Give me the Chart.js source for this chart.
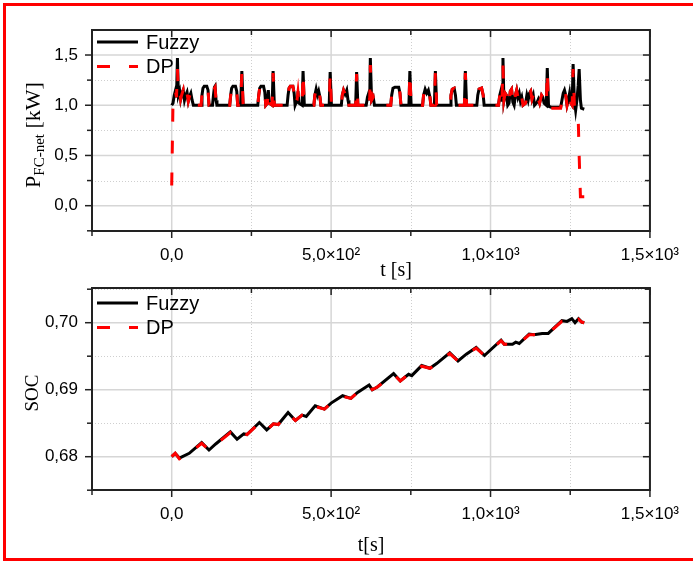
<!DOCTYPE html>
<html>
<head>
<meta charset="utf-8">
<script src="https://cdn.jsdelivr.net/npm/chart.js@4"></script>
<style>
body{margin:0;background:#fff;width:693px;height:563px;overflow:hidden;position:relative}
#box{position:absolute;left:3px;top:3px;width:720px;height:552px;border:3px solid #f00}
canvas{position:absolute;left:0}
</style>
</head>
<body>
<div id="box"></div>
<canvas id="topChart" width="693" height="285" style="top:0"></canvas>
<canvas id="botChart" width="693" height="308" style="top:255px"></canvas>
<script>
// time axis ticks
var xMajor = [0, 500, 1000, 1500];
var xMinor = [-250, 250, 750, 1250];
var xLabels = ['0,0', '5,0×10²', '1,0×10³', '1,5×10³'];

// P_FC-net [kW]
var pMajor = [0, 0.5, 1.0, 1.5];
var pMinor = [-0.25, 0.25, 0.75, 1.25];
var pLabels = ['0,0', '0,5', '1,0', '1,5'];

var tP = [0,4,8,12,15,18,21,25,28,32,36,40,44,48,52,56,60,64,68,92,95,98,102,110,114,117,128,131,134,136,139,142,
  182,185,188,192,200,204,207,216,220,224,270,273,276,280,288,292,295,300,303,306,315,318,322,
  362,365,368,372,380,384,387,393,396,399,409,412,416,446,449,453,457,461,465,468,494,497,501,
  532,535,539,544,549,553,556,577,580,584,610,614,618,621,623,627,632,636,687,690,694,700,712,716,719,
  744,747,751,787,790,795,800,805,810,813,824,827,831,873,876,880,886,890,893,918,921,925,
  957,960,964,972,977,980,1025,1029,1033,1036,1039,1042,1046,1050,1054,1058,1062,1066,1070,1074,
  1078,1082,1086,1090,1094,1098,1102,1110,1114,1118,1122,1126,1130,1134,1138,1146,1150,1154,1160,1164,1168,
  1175,1178,1182,1190,1220,1224,1228,1232,1236,1240,1244,1248,1252,1256,1259,1263,1267,1271,1275,1278,1282,1285,1294];
var pFuzzy = [1.00,1.02,1.10,1.15,1.08,1.47,1.10,1.14,1.06,1.12,1.15,1.05,1.10,1.13,1.04,1.09,1.12,1.05,1.00,1.00,1.10,1.17,1.19,1.19,1.15,1.00,1.00,1.10,1.18,1.19,1.05,1.00,
  1.00,1.10,1.17,1.19,1.19,1.14,1.00,1.00,1.34,1.00,1.00,1.10,1.17,1.19,1.19,1.13,1.00,1.02,1.15,1.02,1.00,1.34,1.00,
  1.00,1.10,1.17,1.19,1.19,1.12,1.00,1.05,1.14,1.02,1.00,1.34,1.00,1.00,1.10,1.16,1.10,1.14,1.08,1.00,1.00,1.33,1.00,
  1.00,1.10,1.15,1.11,1.15,1.05,1.00,1.00,1.33,1.00,1.00,1.08,1.12,1.05,1.47,1.05,1.08,1.00,1.00,1.10,1.17,1.18,1.18,1.12,1.00,
  1.00,1.34,1.00,1.00,1.10,1.16,1.12,1.15,1.08,1.00,1.00,1.34,1.00,1.00,1.10,1.16,1.17,1.10,1.00,1.00,1.34,1.00,
  1.00,1.10,1.16,1.17,1.10,1.00,1.00,1.10,1.15,1.05,1.47,1.05,1.12,1.10,1.00,1.02,1.14,1.16,1.03,1.00,
  1.10,1.15,1.08,1.12,1.04,1.08,1.00,1.02,1.10,1.05,1.12,1.14,1.06,1.10,1.00,1.03,1.06,1.02,1.10,1.08,1.02,
  1.00,1.37,0.99,0.98,0.98,1.05,1.12,1.15,1.10,1.00,1.05,1.12,1.02,1.00,1.41,1.05,0.95,1.05,1.20,1.36,1.05,0.97,0.96];
var pDP = [0.20,1.02,1.08,1.14,1.08,1.36,1.12,1.14,1.06,1.11,1.15,1.05,1.10,1.12,1.04,1.09,1.12,1.05,1.00,1.00,1.10,1.17,1.19,1.19,1.15,1.00,1.00,1.10,1.17,1.18,1.05,1.00,
  1.00,1.10,1.17,1.19,1.19,1.14,1.00,1.00,1.32,1.00,1.00,1.10,1.17,1.19,1.19,1.13,1.00,1.02,1.14,1.02,1.00,1.32,1.00,
  1.00,1.10,1.17,1.19,1.19,1.12,1.00,1.05,1.13,1.02,1.00,1.32,1.00,1.00,1.10,1.16,1.10,1.14,1.08,1.00,1.00,1.31,1.00,
  1.00,1.10,1.15,1.11,1.15,1.05,1.00,1.00,1.31,1.00,1.00,1.08,1.12,1.05,1.40,1.05,1.08,1.00,1.00,1.10,1.17,1.18,1.18,1.12,1.00,
  1.00,1.32,1.00,1.00,1.10,1.16,1.12,1.15,1.08,1.00,1.00,1.32,1.00,1.00,1.10,1.16,1.17,1.10,1.00,1.00,1.32,1.00,
  1.00,1.10,1.16,1.17,1.10,1.00,1.00,1.10,1.15,1.05,1.40,1.05,1.12,1.10,1.00,1.02,1.14,1.16,1.03,1.00,
  1.10,1.15,1.08,1.12,1.04,1.08,1.00,1.02,1.10,1.05,1.12,1.14,1.06,1.10,1.00,1.03,1.06,1.02,1.10,1.08,1.02,
  1.00,1.34,0.98,0.97,0.97,1.05,1.12,1.15,1.10,1.00,1.05,1.12,1.02,1.00,1.36,1.00,0.93,0.92,0.88,0.50,0.09,0.09,0.09];

// SOC
var socMajor = [0.68, 0.69, 0.70];
var socMinor = [0.675, 0.685, 0.695, 0.705];
var socLabels = ['0,68', '0,69', '0,70'];
var tS = [0,11,24,55,94,117,138,184,205,226,236,275,298,319,334,365,388,409,422,450,479,500,536,562,583,619,629,645,
  696,717,743,753,784,810,831,872,898,924,955,981,1033,1043,1069,1079,1090,1121,1136,1162,1181,1224,1240,1255,1265,1276,1286,1294];
var socFuzzy = [0.6800,0.6805,0.6798,0.6805,0.6821,0.6810,0.6819,0.6837,0.6826,0.6834,0.6833,0.6851,0.6840,0.6849,0.6848,0.6866,0.6854,0.6862,0.6860,0.6876,0.6871,0.6880,0.6891,0.6887,0.6896,0.6907,0.6900,0.6904,
  0.6924,0.6913,0.6923,0.6921,0.6936,0.6932,0.6939,0.6955,0.6943,0.6953,0.6963,0.6951,0.6974,0.6968,0.6968,0.6971,0.6969,0.6983,0.6982,0.6984,0.6984,0.7003,0.7002,0.7006,0.7000,0.7006,0.7001,0.7000];
var socDP = [0.6800,0.6805,0.6797,0.6805,0.6820,0.6810,0.6818,0.6836,0.6826,0.6834,0.6833,0.6850,0.6840,0.6849,0.6848,0.6865,0.6854,0.6862,0.6860,0.6875,0.6871,0.6880,0.6890,0.6887,0.6896,0.6906,0.6900,0.6904,
  0.6923,0.6913,0.6923,0.6921,0.6935,0.6932,0.6939,0.6954,0.6943,0.6953,0.6962,0.6951,0.6973,0.6968,0.6968,0.6971,0.6969,0.6982,0.6982,0.6984,0.6984,0.7002,0.7002,0.7005,0.7000,0.7005,0.7001,0.7000];

var SANS = '"Liberation Sans", Arial, sans-serif';
var SERIF = '"Liberation Serif", "Times New Roman", serif';

function pts(t, v) { return t.map(function (x, i) { return { x: x, y: v[i] }; }); }

function richText(ctx, parts, x, y) {
  var w = 0;
  parts.forEach(function (p) { ctx.font = p.font; w += ctx.measureText(p.t).width; });
  var cx = x - w / 2;
  parts.forEach(function (p) {
    ctx.font = p.font;
    ctx.fillText(p.t, cx, y + (p.dy || 0));
    cx += ctx.measureText(p.t).width;
  });
}

function decor(cfg) {
  return {
    id: 'decor',
    beforeDatasetsDraw: function (chart) {
      var ctx = chart.ctx, a = chart.chartArea, xs = chart.scales.x, ys = chart.scales.y;
      ctx.save();
      ctx.strokeStyle = '#cfcfcf'; ctx.lineWidth = 1;
      ctx.setLineDash([1, 2]);
      cfg.xMinor.forEach(function (v) { var p = Math.round(xs.getPixelForValue(v)) + 0.5; ctx.beginPath(); ctx.moveTo(p, a.top); ctx.lineTo(p, a.bottom); ctx.stroke(); });
      cfg.yMinor.forEach(function (v) { var p = Math.round(ys.getPixelForValue(v)) + 0.5; ctx.beginPath(); ctx.moveTo(a.left, p); ctx.lineTo(a.right, p); ctx.stroke(); });
      ctx.setLineDash([]);
      ctx.strokeStyle = '#d6d6d6'; ctx.lineWidth = 1.5;
      cfg.xMajor.forEach(function (v) { var p = xs.getPixelForValue(v); ctx.beginPath(); ctx.moveTo(p, a.top); ctx.lineTo(p, a.bottom); ctx.stroke(); });
      cfg.yMajor.forEach(function (v) { var p = ys.getPixelForValue(v); ctx.beginPath(); ctx.moveTo(a.left, p); ctx.lineTo(a.right, p); ctx.stroke(); });
      ctx.restore();
    },
    afterDraw: function (chart) {
      var ctx = chart.ctx, a = chart.chartArea, xs = chart.scales.x, ys = chart.scales.y;
      ctx.save();
      ctx.strokeStyle = '#222'; ctx.lineWidth = 1.5;
      function tx(list, len) {
        list.forEach(function (v) {
          var p = xs.getPixelForValue(v);
          ctx.beginPath(); ctx.moveTo(p, a.bottom); ctx.lineTo(p, a.bottom + len); ctx.stroke();
          ctx.beginPath(); ctx.moveTo(p, a.top); ctx.lineTo(p, a.top + len); ctx.stroke();
        });
      }
      function ty(list, len) {
        list.forEach(function (v) {
          var p = ys.getPixelForValue(v);
          ctx.beginPath(); ctx.moveTo(a.left, p); ctx.lineTo(a.left - len, p); ctx.stroke();
          ctx.beginPath(); ctx.moveTo(a.right, p); ctx.lineTo(a.right - len, p); ctx.stroke();
        });
      }
      tx(cfg.xMajor, 7); tx(cfg.xMinor, 5);
      ty(cfg.yMajor, 7); ty(cfg.yMinor, 5);
      ctx.lineWidth = 2;
      ctx.strokeRect(a.left, a.top, a.right - a.left, a.bottom - a.top);

      // axis titles
      ctx.fillStyle = '#000';
      ctx.textBaseline = 'middle';
      richText(ctx, cfg.xTitle, cfg.xTitlePos[0], cfg.xTitlePos[1]);
      ctx.save();
      ctx.translate(cfg.yTitlePos[0], cfg.yTitlePos[1]);
      ctx.rotate(-Math.PI / 2);
      richText(ctx, cfg.yTitle, 0, 0);
      ctx.restore();

      // legend
      var lx = cfg.legend[0], ly = cfg.legend[1];
      chart.data.datasets.forEach(function (ds, i) {
        var y = ly + i * 24.5;
        ctx.strokeStyle = ds.borderColor; ctx.lineWidth = 3;
        ctx.setLineDash(ds.borderDash || []);
        ctx.beginPath(); ctx.moveTo(lx, y); ctx.lineTo(lx + 41, y); ctx.stroke();
        ctx.setLineDash([]);
        ctx.font = '20px ' + SANS; ctx.textAlign = 'left';
        ctx.fillText(ds.label, lx + 49, y + 1);
      });
      ctx.restore();
    }
  };
}

function makeChart(id, datasets, yMin, yMax, yMajor, yLabels, cfg, pad) {
  return new Chart(document.getElementById(id), {
    type: 'line',
    data: { datasets: datasets },
    options: {
      responsive: false,
      animation: false,
      layout: { padding: pad },
      plugins: { legend: { display: false }, tooltip: { enabled: false } },
      elements: { point: { radius: 0 }, line: { tension: 0 } },
      scales: {
        x: {
          type: 'linear', min: -250, max: 1500,
          grid: { display: false, drawTicks: false }, border: { display: false },
          afterBuildTicks: function (s) { s.ticks = xMajor.map(function (v) { return { value: v }; }); },
          afterFit: function (s) { s.height = cfg.xAxisH; },
          ticks: {
            autoSkip: false, maxRotation: 0, padding: 14, color: '#000',
            font: { family: SANS, size: 17 },
            callback: function (v) { return xLabels[xMajor.indexOf(v)]; }
          }
        },
        y: {
          min: yMin, max: yMax,
          grid: { display: false, drawTicks: false }, border: { display: false },
          afterBuildTicks: function (s) { s.ticks = yMajor.map(function (v) { return { value: v }; }); },
          afterFit: function (s) { s.width = 92; },
          ticks: {
            padding: 14, color: '#000',
            font: { family: SANS, size: 17 },
            callback: function (v) {
              for (var i = 0; i < yMajor.length; i++) if (Math.abs(yMajor[i] - v) < 1e-9) return yLabels[i];
              return '';
            }
          }
        }
      }
    },
    plugins: [decor(cfg)]
  });
}

makeChart('topChart', [
  { label: 'Fuzzy', data: pts(tP, pFuzzy), borderColor: '#000', borderWidth: 3, order: 2 },
  { label: 'DP', data: pts(tP, pDP), borderColor: '#ff0000', borderWidth: 3, borderDash: [13, 19], order: 1 }
], -0.252, 1.749, pMajor, pLabels, {
  xMajor: xMajor, xMinor: xMinor, yMajor: pMajor, yMinor: pMinor, xAxisH: 54,
  xTitle: [{ t: 't [s]', font: '20px ' + SERIF }], xTitlePos: [396, 271],
  yTitle: [{ t: 'P', font: '22px ' + SERIF }, { t: 'FC-net', font: '15px ' + SERIF, dy: 6 }, { t: ' [kW]', font: '22px ' + SERIF }],
  yTitlePos: [34, 135], legend: [97, 42]
}, { left: 0, right: 39, top: 30, bottom: 0 });

makeChart('botChart', [
  { label: 'Fuzzy', data: pts(tS, socFuzzy), borderColor: '#000', borderWidth: 3, order: 2 },
  { label: 'DP', data: pts(tS, socDP), borderColor: '#ff0000', borderWidth: 3, borderDash: [13, 19], order: 1 }
], 0.67503, 0.70518, socMajor, socLabels, {
  xMajor: xMajor, xMinor: xMinor, yMajor: socMajor, yMinor: socMinor, xAxisH: 73,
  xTitle: [{ t: 't[s]', font: '20px ' + SERIF }], xTitlePos: [371, 291],
  yTitle: [{ t: 'SOC', font: '19px ' + SERIF }], yTitlePos: [33, 138], legend: [97, 48]
}, { left: 0, right: 39, top: 33, bottom: 0 });
</script>
</body>
</html>
